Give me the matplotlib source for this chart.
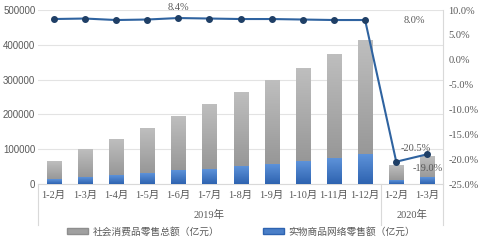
import numpy as np
import matplotlib
matplotlib.use('Agg')
import matplotlib.pyplot as plt
from matplotlib.colors import LinearSegmentedColormap
from matplotlib.patches import Patch

plt.rcParams['font.family'] = ['Liberation Serif', 'Noto Sans CJK SC']

# 数据
months = ['1-2月', '1-3月', '1-4月', '1-5月', '1-6月', '1-7月', '1-8月', '1-9月',
          '1-10月', '1-11月', '1-12月', '1-2月', '1-3月']
total_sales = [66064, 97790, 128198, 160613, 195210, 228929, 262179, 296674,
               332316, 372872, 411649, 52130, 78580]
online_sales = [12000, 18000, 23500, 30000, 38000, 43000, 50000, 57000,
                64000, 74000, 85000, 11200, 18500]
growth = [8.2, 8.3, 8.0, 8.1, 8.4, 8.3, 8.2, 8.2, 8.1, 8.0, 8.0, -20.5, -19.0]
years = ['2019年', '2020年']
year_span = [(0, 10), (11, 12)]

fig = plt.figure(figsize=(4.82, 2.40), dpi=100)
ax = fig.add_axes([0.079, 0.233, 0.84, 0.725])
ax2 = ax.twinx()

x = np.arange(len(months))
w = 0.45
gray_cm = LinearSegmentedColormap.from_list('g', ['#8E8E8E', '#BEBEBE'])
blue_cm = LinearSegmentedColormap.from_list('b', ['#2E63B0', '#5D92D9'])
grad = np.linspace(0, 1, 64).reshape(-1, 1)

# 渐变柱子
for i in range(len(months)):
    ax.imshow(grad, cmap=gray_cm, origin='lower', aspect='auto',
              extent=(x[i] - w / 2, x[i] + w / 2, 0, total_sales[i]), zorder=2)
    ax.imshow(grad, cmap=blue_cm, origin='lower', aspect='auto',
              extent=(x[i] - w / 2, x[i] + w / 2, 0, online_sales[i]), zorder=3)

ax.set_xlim(-0.5, len(months) - 0.5)
ax.set_ylim(0, 500000)
ax.set_yticks(np.arange(0, 500001, 100000))
ax.yaxis.grid(True, color='#E3E3E3', linewidth=0.8)
ax.set_axisbelow(True)
for s in ['top', 'right', 'left']:
    ax.spines[s].set_visible(False)
ax.spines['bottom'].set_color('#D9D9D9')
ax.tick_params(axis='y', length=0, labelsize=7, labelcolor='#595959', pad=2)
for t in ax.get_yticklabels():
    t.set_family(['Liberation Sans'])
ax.set_xticks(x)
ax.set_xticklabels(months)
ax.tick_params(axis='x', length=0, labelsize=7.5, labelcolor='#595959', pad=5)

# 折线
ax2.plot(x, growth, color='#2F63A0', linewidth=1.5, marker='o', markersize=4,
         markerfacecolor='#1F3F66', markeredgecolor='#1F3F66', zorder=5)
ax2.set_ylim(-25, 10)
ax2.set_yticks(np.arange(-25, 10.1, 5))
ax2.set_yticklabels(['%.1f%%' % v for v in np.arange(-25, 10.1, 5)])
ax2.tick_params(axis='y', length=0, labelsize=7.5, labelcolor='#595959', pad=4)
for s in ['top', 'left', 'bottom']:
    ax2.spines[s].set_visible(False)
ax2.spines['right'].set_color('#D9D9D9')

lbl = dict(fontsize=7.5, color='#595959')
ax2.annotate('8.4%', (x[4], growth[4]), xytext=(0, 4), textcoords='offset points', ha='center', va='bottom', **lbl)
ax2.annotate('8.0%', (x[10], growth[10]), xytext=(28, 0), textcoords='offset points', ha='left', va='center', **lbl)
ax2.annotate('-20.5%', (x[11], growth[11]), xytext=(3, 6), textcoords='offset points', ha='left', va='bottom', **lbl)
ax2.annotate('-19.0%', (x[12], growth[12]), xytext=(0, -7), textcoords='offset points', ha='center', va='top', **lbl)

# 年份分组
trans = ax.get_xaxis_transform()
for xs in [-0.5, 10.5, 12.5]:
    ax.plot([xs, xs], [0, -0.235], transform=trans, color='#D9D9D9', linewidth=0.8, clip_on=False)
for yr, (a, b) in zip(years, year_span):
    ax.text((a + b) / 2, -0.18, yr, transform=trans, ha='center', va='center', fontsize=7.5, color='#595959')

handles = [Patch(facecolor='#A0A0A0', edgecolor='#8E8E8E'),
           Patch(facecolor='#4A7FC8', edgecolor='#2E63B0')]
fig.legend(handles, ['社会消费品零售总额（亿元）', '实物商品网络零售额（亿元）'],
           loc='center', bbox_to_anchor=(0.5, 0.035), ncol=2, frameon=False,
           fontsize=7, handlelength=2.2, handleheight=0.6, handletextpad=0.4,
           columnspacing=4.5, labelcolor='#595959')

fig.savefig('out.png', dpi=100)
